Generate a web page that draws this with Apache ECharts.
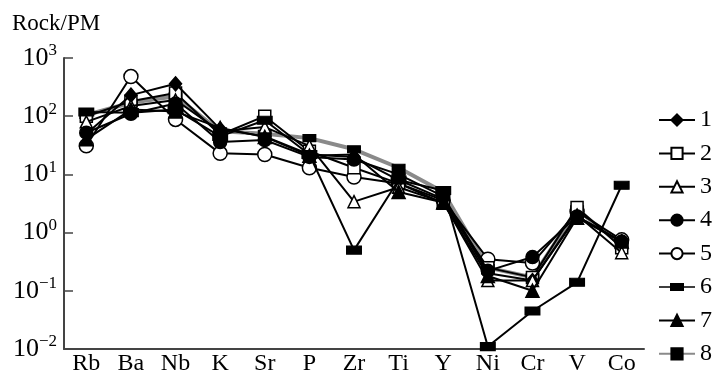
<!DOCTYPE html>
<html>
<head>
<meta charset="utf-8">
<script src="https://cdn.jsdelivr.net/npm/echarts@6/dist/echarts.min.js"></script>
<style>
  html, body { margin: 0; padding: 0; background: #fff; }
  #chart { width: 720px; height: 391px; }
</style>
</head>
<body>
<div id="chart"></div>
<script>
// Primitive-mantle normalised trace-element patterns
const elements = ['Rb', 'Ba', 'Nb', 'K', 'Sr', 'P', 'Zr', 'Ti', 'Y', 'Ni', 'Cr', 'V', 'Co'];

const s1 = [50, 230, 360, 60, 45, 22, 20, 8, 3.8, 0.2, 0.15, 1.9, 0.7];
const s2 = [100, 180, 250, 48, 100, 25, 13, 7, 3.2, 0.25, 0.17, 2.7, 0.55];
const s3 = [80, 150, 190, 55, 65, 31, 3.4, 6, 3.3, 0.15, 0.15, 2.0, 0.45];
const s4 = [52, 110, 165, 36, 39, 20, 18, 10, 4.2, 0.22, 0.38, 1.9, 0.7];
const s5 = [31, 480, 88, 23, 22, 13, 9, 7, 3.6, 0.35, 0.3, 2.3, 0.75];
const s6 = [118, 115, 130, 45, 85, 22, 0.5, 8, 5.3, 0.011, 0.045, 0.14, 6.5];
const s7 = [40, 130, 120, 63, 44, 21, 22, 5, 3.3, 0.18, 0.1, 1.8, 0.7];
const s8 = [105, 170, 220, 55, 50, 42, 27, 13, 5, 0.25, 0.17, 2.5, 0.6];

const seriesNames = ['1', '2', '3', '4', '5', '6', '7', '8'];

const serif = '"Liberation Serif", "DejaVu Serif", serif';
const diamondPath = 'path://M0,-7 L6,0 L0,7 L-6,0 Z';
// legend glyph for series 6: thin line with a flat bar in the middle
const barLineIcon = 'path://M0,3.2L36,3.2L36,4.8L0,4.8Z M11,0L25,0L25,8L11,8Z';

function line(name, data, symbol, size, fill, lineColor, lineWidth, z) {
  return {
    name: name,
    type: 'line',
    data: data,
    symbol: symbol,
    symbolSize: size,
    showAllSymbol: true,
    z: z,
    itemStyle: { color: fill, borderColor: '#000', borderWidth: 1.5 },
    lineStyle: { color: lineColor, width: lineWidth },
    emphasis: { disabled: true },
    animation: false
  };
}

const legendData = seriesNames.map(function (n) {
  return n === '6' ? { name: n, icon: barLineIcon, itemStyle: { color: '#000', borderWidth: 0 } } : { name: n };
});

const chart = echarts.init(document.getElementById('chart'), null, { renderer: 'canvas' });

chart.setOption({
  animation: false,
  backgroundColor: '#fff',
  title: {
    text: 'Rock/PM',
    left: 7,
    top: 7,
    textStyle: { fontFamily: serif, fontSize: 23, fontWeight: 'normal', color: '#000' }
  },
  grid: { left: 64, right: 76, top: 58, bottom: 42, containLabel: false },
  legend: {
    orient: 'vertical',
    left: 653,
    top: 103,
    itemWidth: 36,
    itemHeight: 14,
    itemGap: 9.4,
    symbolKeepAspect: true,
    data: legendData,
    textStyle: { fontFamily: serif, fontSize: 24, color: '#000' }
  },
  xAxis: {
    type: 'category',
    data: elements,
    boundaryGap: true,
    axisLine: { lineStyle: { color: '#444', width: 2 } },
    axisTick: { inside: true, length: 8, lineStyle: { color: '#444', width: 1.5 } },
    axisLabel: { fontFamily: serif, fontSize: 24, color: '#000', margin: 3 },
    splitLine: { show: false }
  },
  yAxis: {
    type: 'log',
    logBase: 10,
    min: 0.01,
    max: 1000,
    axisLine: { show: true, lineStyle: { color: '#444', width: 2 } },
    axisTick: { show: true, inside: true, length: 9, lineStyle: { color: '#444', width: 1.5 } },
    splitLine: { show: false },
    axisLabel: {
      margin: 7,
      formatter: function (v) {
        const e = Math.round(Math.log10(v));
        return '{b|10}{s|' + (e < 0 ? '\u2212' + (-e) : e) + '}';
      },
      rich: {
        b: { fontFamily: serif, fontSize: 26, color: '#000' },
        s: { fontFamily: serif, fontSize: 17, color: '#000', padding: [0, 0, 14, 0] }
      }
    }
  },
  series: [
    line('1', s1, diamondPath, [12, 14], '#000', '#000', 2, 5),
    line('2', s2, 'rect', 12, '#fff', '#000', 2, 4),
    line('3', s3, 'triangle', 12, '#fff', '#000', 2, 6),
    line('4', s4, 'circle', 13, '#000', '#000', 2, 7),
    line('5', s5, 'circle', 14, '#fff', '#000', 2, 3),
    line('6', s6, 'rect', [14, 8], '#000', '#000', 2, 8),
    line('7', s7, 'triangle', 13, '#000', '#000', 2, 9),
    line('8', s8, 'rect', [12, 7], '#000', '#8a8a8a', 4, 2)
  ]
});
</script>
</body>
</html>
